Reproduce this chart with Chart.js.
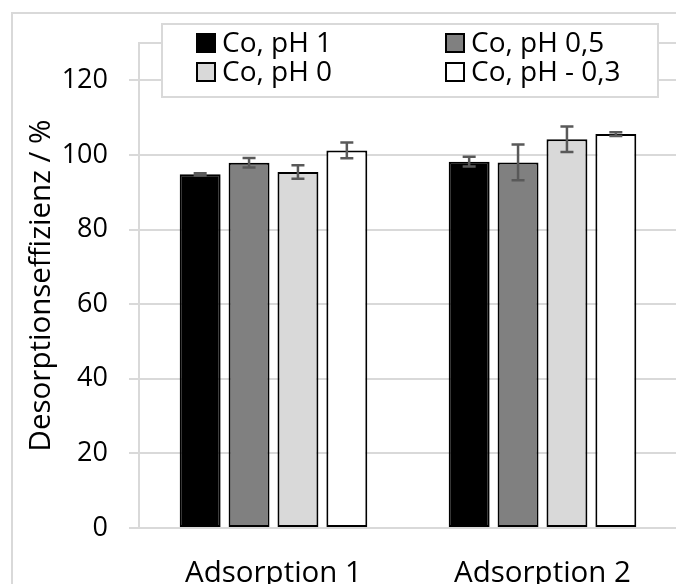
<!DOCTYPE html>
<html>
<head>
<meta charset="utf-8">
<script src="https://cdn.jsdelivr.net/npm/chart.js@4"></script>
<style>
    html, body { margin: 0; padding: 0; background: #ffffff; overflow: hidden; }
    canvas { position: absolute; left: 0; top: 0; }
</style>
</head>
<body>
<canvas id="desorptionChart" width="700" height="620"></canvas>
<script>
// Categories and series
const categories = ['Adsorption 1', 'Adsorption 2'];
const seriesLabels = ['Co, pH 1', 'Co, pH 0,5', 'Co, pH 0', 'Co, pH - 0,3'];

// Desorption efficiency in % with standard deviations
const coPh1 = [94.8, 98.2];
const coPh1Err = [0.3, 1.3];
const coPh05 = [97.9, 98.0];
const coPh05Err = [1.3, 4.8];
const coPh0 = [95.4, 104.2];
const coPh0Err = [1.8, 3.4];
const coPhMinus03 = [101.2, 105.6];
const coPhMinus03Err = [2.1, 0.5];

const yTicks = [0, 20, 40, 60, 80, 100, 120];

const seriesValues = [coPh1, coPh05, coPh0, coPhMinus03];
const seriesErrors = [coPh1Err, coPh05Err, coPh0Err, coPhMinus03Err];
const seriesColors = ['#000000', '#808080', '#d9d9d9', '#ffffff'];

const FONT = "'Open Sans', 'DejaVu Sans', sans-serif";
const GRID = '#d9d9d9';

// Error bars drawn on top of the bars
const errorBarPlugin = {
    id: 'errorBars',
    afterDatasetsDraw(chart) {
        const ctx = chart.ctx;
        const yScale = chart.scales.y;
        ctx.save();
        ctx.strokeStyle = '#595959';
        ctx.lineWidth = 2.5;
        chart.data.datasets.forEach((ds, di) => {
            const meta = chart.getDatasetMeta(di);
            meta.data.forEach((bar, i) => {
                const v = ds.data[i];
                const e = seriesErrors[di][i];
                const yTop = yScale.getPixelForValue(v + e);
                const yBot = yScale.getPixelForValue(v - e);
                const cap = 6.5;
                ctx.beginPath();
                ctx.moveTo(bar.x, yTop);
                ctx.lineTo(bar.x, yBot);
                ctx.moveTo(bar.x - cap, yTop);
                ctx.lineTo(bar.x + cap, yTop);
                ctx.moveTo(bar.x - cap, yBot);
                ctx.lineTo(bar.x + cap, yBot);
                ctx.stroke();
            });
        });
        ctx.restore();
    }
};

// Outer frame, top border of the plot area and the boxed two-column legend
const framePlugin = {
    id: 'frame',
    beforeDraw(chart) {
        const ctx = chart.ctx;
        ctx.save();
        ctx.strokeStyle = GRID;
        ctx.lineWidth = 2;
        ctx.strokeRect(12, 13, chart.width + 20, chart.height + 20);
        ctx.restore();
    },
    afterDraw(chart) {
        const ctx = chart.ctx;
        const area = chart.chartArea;
        ctx.save();
        ctx.strokeStyle = GRID;
        ctx.lineWidth = 2;
        ctx.beginPath();
        ctx.moveTo(area.left, area.top);
        ctx.lineTo(area.right, area.top);
        ctx.stroke();

        // legend box
        const box = { x: 162, y: 24, w: 496, h: 73 };
        ctx.fillStyle = '#ffffff';
        ctx.fillRect(box.x, box.y, box.w, box.h);
        ctx.strokeRect(box.x, box.y, box.w, box.h);

        const cols = [197, 446];
        const rows = [43, 72];
        const sq = 18;
        ctx.font = '28px ' + FONT;
        ctx.textBaseline = 'middle';
        ctx.textAlign = 'left';
        chart.data.datasets.forEach((ds, i) => {
            const x = cols[i % 2];
            const y = rows[Math.floor(i / 2)];
            ctx.fillStyle = ds.backgroundColor;
            ctx.fillRect(x, y - sq / 2, sq, sq);
            ctx.strokeStyle = '#000000';
            ctx.lineWidth = 2;
            ctx.strokeRect(x, y - sq / 2, sq, sq);
            ctx.fillStyle = '#000000';
            ctx.fillText(ds.label, x + 25, y + 1);
        });
        ctx.restore();
    }
};

const ctx = document.getElementById('desorptionChart').getContext('2d');

window.desorptionChart = new Chart(ctx, {
    type: 'bar',
    data: {
        labels: categories,
        datasets: seriesLabels.map((label, i) => ({
            label: label,
            data: seriesValues[i],
            backgroundColor: seriesColors[i],
            borderColor: '#000000',
            borderWidth: 2,
            borderSkipped: false,
            categoryPercentage: 0.727,
            barPercentage: 0.837
        }))
    },
    options: {
        responsive: false,
        devicePixelRatio: 1,
        animation: false,
        layout: {
            padding: { left: 0, top: 43, right: 23, bottom: 0 }
        },
        plugins: {
            legend: { display: false },
            tooltip: { enabled: false }
        },
        scales: {
            x: {
                grid: { display: false, drawTicks: false },
                border: { display: false },
                ticks: {
                    color: '#000000',
                    font: { family: FONT, size: 29.5 },
                    padding: 28
                },
                afterFit: scale => { scale.height = 92; }
            },
            y: {
                min: 0,
                max: 130,
                afterBuildTicks: scale => {
                    scale.ticks = yTicks.map(v => ({ value: v }));
                },
                grid: {
                    color: GRID,
                    lineWidth: 2,
                    tickLength: 10,
                    drawTicks: true
                },
                border: { display: true, color: GRID, width: 2 },
                ticks: {
                    color: '#000000',
                    font: { family: FONT, size: 27 },
                    padding: 21
                },
                title: {
                    display: true,
                    text: 'Desorptionseffizienz / %',
                    color: '#000000',
                    font: { family: FONT, size: 29.5 },
                    padding: { top: 24, bottom: 0 }
                },
                afterFit: scale => { scale.width = 139; }
            }
        }
    },
    plugins: [errorBarPlugin, framePlugin]
});
</script>
</body>
</html>
